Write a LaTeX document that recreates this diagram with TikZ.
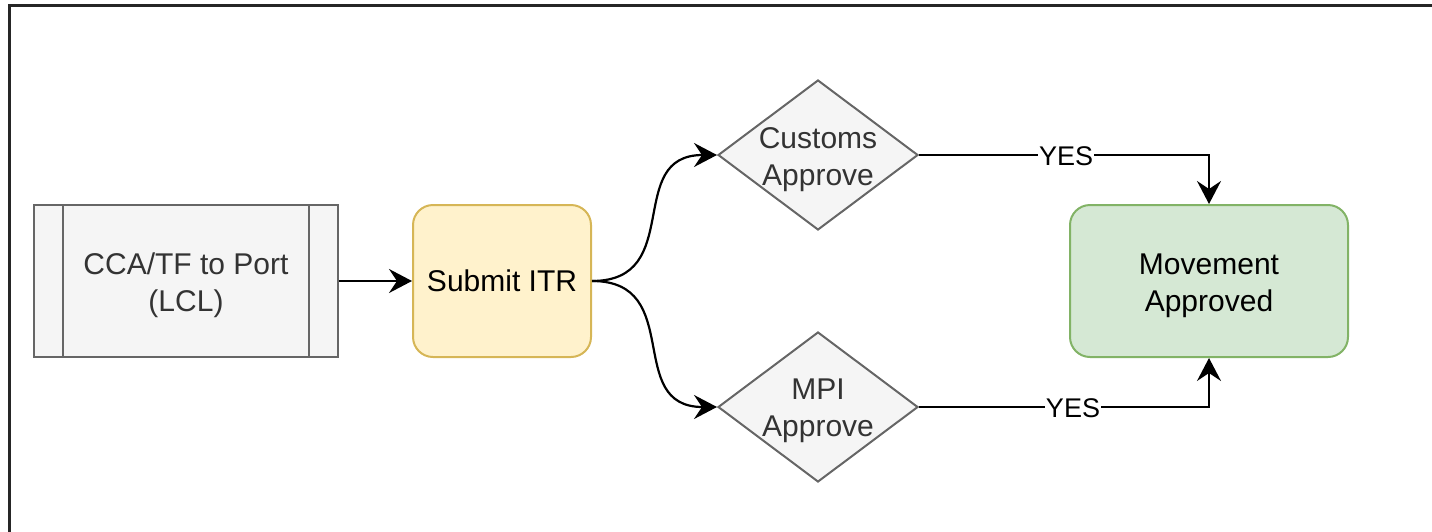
\documentclass[tikz,border=0pt]{standalone}
\usepackage{fontspec}
\setmainfont{Liberation Sans}
\usetikzlibrary{arrows.meta,shapes.geometric,calc}
\definecolor{grayfill}{HTML}{F5F5F5}
\definecolor{graydraw}{HTML}{666666}
\definecolor{graytext}{HTML}{333333}
\definecolor{yelfill}{HTML}{FFF2CC}
\definecolor{yeldraw}{HTML}{D6B656}
\definecolor{grnfill}{HTML}{D5E8D4}
\definecolor{grndraw}{HTML}{82B366}
\tikzset{
  basefont/.style={font=\fontsize{30}{37}\selectfont, align=center},
  subproc/.style={rectangle, draw=graydraw, fill=grayfill, line width=2pt, minimum width=304pt, minimum height=152pt, inner sep=0pt},
  yelbox/.style={rectangle, rounded corners=20pt, draw=yeldraw, fill=yelfill, line width=2pt, minimum width=178pt, minimum height=152pt, inner sep=0pt, basefont},
  grnbox/.style={rectangle, rounded corners=20pt, draw=grndraw, fill=grnfill, line width=2pt, minimum width=278pt, minimum height=152pt, inner sep=0pt},
  decbox/.style={diamond, draw=graydraw, fill=grayfill, line width=2pt, minimum width=200pt, minimum height=150pt, inner sep=0pt},
  boxtext/.style={basefont, inner sep=0pt},
  conn/.style={line width=2.2pt, -{Stealth[length=23pt,width=24pt,inset=8pt]}},
  curveconn/.style={conn, out=0, in=180, looseness=1.35},
  edgelabel/.style={fill=white, inner sep=1pt, font=\fontsize{27}{32}\selectfont},
  frameline/.style={line width=3pt, draw=black!85}
}
\begin{document}
\begin{tikzpicture}[x=1pt,y=-1pt]
\useasboundingbox (0,0) rectangle (1432,531);
\draw[frameline] (9,545) -- (9,5) -- (1445,5);

\node[subproc] (cca) at (186,281) {};
\draw[graydraw, line width=2pt] ($(cca.north west)+(30,0)$) -- ($(cca.south west)+(30,0)$);
\draw[graydraw, line width=2pt] ($(cca.north east)+(-30,0)$) -- ($(cca.south east)+(-30,0)$);
\node[boxtext, text=graytext] (ccatxt) at (186,285) {CCA/TF to Port\\(LCL)};

\node[yelbox] (itr) at (502,281) {Submit ITR};

\node[decbox] (cust) at (818,155) {};
\node[boxtext, text=graytext] (custtxt) at (818,160) {Customs\\Approve};
\node[decbox] (mpi) at (818,407) {};
\node[boxtext, text=graytext] (mpitxt) at (818,411) {MPI\\Approve};

\node[grnbox] (mov) at (1209,281) {};
\node[boxtext] (movtxt) at (1209,286) {Movement\\Approved};

\draw[conn] (cca.east) -- (itr.west);
\draw[curveconn] (itr.east) to (cust.west);
\draw[curveconn] (itr.east) to (mpi.west);
\draw[conn] (cust.east) -- (cust.east -| mov.north) -- (mov.north);
\draw[conn] (mpi.east) -- (mpi.east -| mov.south) -- (mov.south);
\node[edgelabel] (yes1) at (1066,156) {YES};
\node[edgelabel] (yes2) at (1073,408) {YES};
\end{tikzpicture}
\end{document}
